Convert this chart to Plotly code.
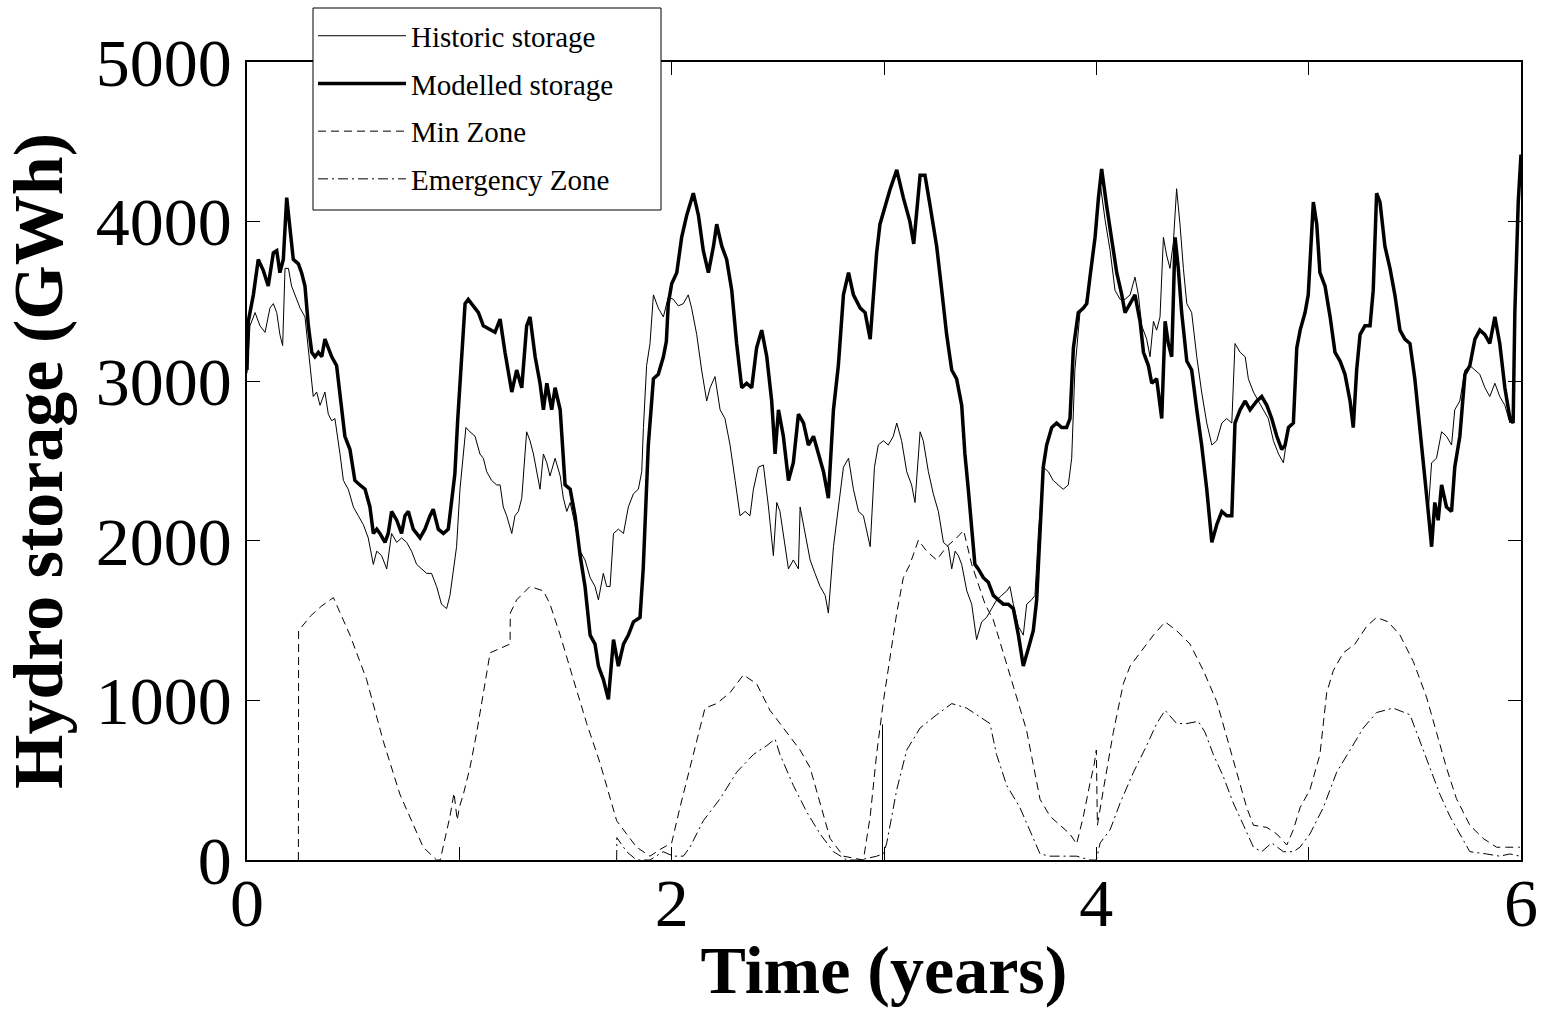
import plotly.graph_objects as go

# ---------------- data (years, GWh) ----------------
model_t = [0.0, 0.006, 0.03, 0.053, 0.077, 0.1, 0.124, 0.14, 0.155, 0.171, 0.187, 0.202, 0.218, 0.242, 0.257,
           0.273, 0.289, 0.305, 0.32, 0.336, 0.352, 0.367, 0.383, 0.399, 0.422, 0.438, 0.461, 0.485, 0.508, 0.532,
           0.556, 0.579, 0.595, 0.611, 0.626, 0.65, 0.665, 0.681, 0.705, 0.728, 0.744, 0.76, 0.783, 0.815, 0.838,
           0.862, 0.877, 0.901, 0.925, 0.948, 0.965, 0.979, 0.992, 1.005, 1.027, 1.042, 1.066, 1.09, 1.113, 1.145,
           1.168, 1.192, 1.215, 1.247, 1.27, 1.294, 1.317, 1.333, 1.357, 1.38, 1.396, 1.412, 1.435, 1.451, 1.475,
           1.498, 1.522, 1.545, 1.569, 1.592, 1.616, 1.639, 1.655, 1.678, 1.702, 1.726, 1.749, 1.773, 1.796, 1.82,
           1.851, 1.866, 1.89, 1.914, 1.937, 1.961, 1.975, 1.984, 2.0, 2.024, 2.047, 2.071, 2.102, 2.126, 2.149,
           2.173, 2.197, 2.212, 2.236, 2.259, 2.283, 2.306, 2.33, 2.353, 2.377, 2.4, 2.424, 2.448, 2.471, 2.487,
           2.503, 2.526, 2.55, 2.573, 2.597, 2.621, 2.644, 2.668, 2.691, 2.715, 2.738, 2.762, 2.785, 2.809, 2.833,
           2.856, 2.888, 2.911, 2.935, 2.951, 2.965, 2.981, 3.005, 3.028, 3.06, 3.091, 3.122, 3.14, 3.17, 3.193,
           3.217, 3.248, 3.272, 3.295, 3.319, 3.342, 3.366, 3.381, 3.397, 3.413, 3.428, 3.444, 3.468, 3.491, 3.515,
           3.538, 3.562, 3.585, 3.609, 3.633, 3.656, 3.68, 3.703, 3.719, 3.735, 3.75, 3.766, 3.79, 3.813, 3.837,
           3.86, 3.876, 3.892, 3.915, 3.939, 3.955, 3.97, 3.994, 4.01, 4.025, 4.049, 4.073, 4.096, 4.12, 4.135,
           4.159, 4.182, 4.206, 4.222, 4.245, 4.261, 4.284, 4.308, 4.324, 4.339, 4.355, 4.371, 4.386, 4.402, 4.426,
           4.449, 4.473, 4.496, 4.52, 4.544, 4.567, 4.591, 4.614, 4.638, 4.653, 4.677, 4.701, 4.724, 4.756, 4.779,
           4.803, 4.826, 4.85, 4.873, 4.889, 4.905, 4.928, 4.944, 4.96, 4.983, 4.998, 5.022, 5.038, 5.053, 5.077,
           5.101, 5.124, 5.148, 5.171, 5.195, 5.21, 5.226, 5.242, 5.265, 5.289, 5.304, 5.32, 5.336, 5.359, 5.383,
           5.406, 5.43, 5.453, 5.477, 5.5, 5.524, 5.547, 5.563, 5.579, 5.594, 5.61, 5.626, 5.649, 5.673, 5.688,
           5.712, 5.736, 5.759, 5.783, 5.806, 5.83, 5.853, 5.877, 5.9, 5.924, 5.948, 5.963, 5.971, 5.987, 6.0]
model_v = [3070, 3375, 3541, 3763, 3693, 3596, 3804, 3818, 3680, 3763, 4150, 3984, 3763, 3735, 3680,
           3596, 3347, 3181, 3153, 3181, 3153, 3264, 3209, 3153, 3098, 2904, 2655, 2572, 2378, 2350,
           2323, 2212, 2046, 2073, 2046, 1990, 2046, 2184, 2129, 2046, 2157, 2184, 2073, 2018, 2073,
           2157, 2198, 2073, 2046, 2073, 2250, 2420, 2750, 3000, 3486, 3513, 3472, 3430, 3347, 3320,
           3306, 3389, 3181, 2932, 3070, 2959, 3347, 3403, 3153, 2987, 2821, 2987, 2821, 2959, 2821,
           2350, 2323, 2157, 1907, 1714, 1409, 1353, 1215, 1132, 1007, 1381, 1215, 1353, 1409, 1492,
           1520, 1824, 2600, 3015, 3043, 3153, 3250, 3486, 3610, 3680, 3901, 4040, 4178, 4040, 3818,
           3680, 3846, 3984, 3846, 3763, 3569, 3236, 2959, 2987, 2959, 3209, 3320, 3153, 2876, 2544,
           2821, 2655, 2378, 2489, 2793, 2738, 2600, 2655, 2544, 2433, 2267, 2821, 3098, 3541, 3680,
           3541, 3458, 3430, 3264, 3541, 3800, 3984, 4095, 4200, 4324, 4150, 4000, 3860, 4290, 4290,
           4100, 3846, 3569, 3292, 3070, 3015, 2849, 2544, 2323, 2046, 1852, 1824, 1769, 1741, 1658,
           1630, 1603, 1603, 1575, 1409, 1215, 1326, 1437, 1630, 2046, 2461, 2600, 2710, 2738, 2710,
           2710, 2766, 3209, 3430, 3458, 3486, 3652, 3901, 4150, 4330, 4095, 3873, 3680, 3541, 3430,
           3486, 3541, 3375, 3181, 3098, 2987, 3015, 2766, 3375, 3236, 3153, 3901, 3707, 3430, 3126,
           3070, 2821, 2600, 2323, 1990, 2101, 2184, 2157, 2157, 2738, 2821, 2876, 2821, 2876, 2904,
           2849, 2766, 2655, 2572, 2600, 2710, 2738, 3209, 3320, 3430, 3541, 4122, 3984, 3680, 3596,
           3403, 3181, 3126, 3043, 2876, 2710, 3070, 3292, 3347, 3347, 3569, 4178, 4122, 3846, 3707,
           3541, 3320, 3264, 3236, 3015, 2710, 2433, 2184, 1963, 2240, 2129, 2350, 2212, 2184, 2461,
           2655, 3043, 3098, 3264, 3320, 3292, 3236, 3403, 3236, 2959, 2766, 2738, 3430, 4122, 4420]

hist_t = [0.0, 0.014, 0.038, 0.061, 0.085, 0.108, 0.124, 0.14, 0.155, 0.168, 0.179, 0.195, 0.21, 0.226, 0.25,
          0.273, 0.289, 0.305, 0.312, 0.328, 0.344, 0.367, 0.383, 0.399, 0.414, 0.438, 0.454, 0.477, 0.501, 0.524,
          0.548, 0.571, 0.595, 0.611, 0.634, 0.658, 0.681, 0.705, 0.728, 0.752, 0.775, 0.799, 0.822, 0.846, 0.869,
          0.893, 0.916, 0.94, 0.956, 0.972, 0.987, 1.003, 1.019, 1.031, 1.05, 1.074, 1.097, 1.113, 1.129, 1.152,
          1.176, 1.192, 1.207, 1.223, 1.247, 1.262, 1.278, 1.294, 1.317, 1.333, 1.349, 1.364, 1.38, 1.396, 1.412,
          1.427, 1.451, 1.475, 1.49, 1.506, 1.522, 1.545, 1.569, 1.592, 1.616, 1.639, 1.655, 1.678, 1.694, 1.71,
          1.726, 1.749, 1.773, 1.796, 1.82, 1.843, 1.859, 1.867, 1.882, 1.898, 1.914, 1.937, 1.961, 1.984, 2.008,
          2.031, 2.055, 2.078, 2.094, 2.118, 2.141, 2.165, 2.181, 2.204, 2.228, 2.251, 2.275, 2.299, 2.322, 2.346,
          2.369, 2.385, 2.408, 2.432, 2.456, 2.479, 2.495, 2.51, 2.534, 2.55, 2.573, 2.597, 2.605, 2.628, 2.652,
          2.675, 2.699, 2.723, 2.738, 2.762, 2.785, 2.809, 2.833, 2.856, 2.88, 2.903, 2.935, 2.955, 2.973, 2.997,
          3.02, 3.044, 3.06, 3.083, 3.107, 3.13, 3.146, 3.17, 3.185, 3.209, 3.232, 3.256, 3.28, 3.303, 3.319,
          3.335, 3.35, 3.366, 3.39, 3.413, 3.436, 3.46, 3.483, 3.507, 3.531, 3.554, 3.578, 3.593, 3.609, 3.633,
          3.656, 3.672, 3.695, 3.711, 3.727, 3.75, 3.774, 3.797, 3.821, 3.844, 3.868, 3.884, 3.899, 3.923, 3.946,
          3.97, 3.994, 4.018, 4.041, 4.065, 4.088, 4.112, 4.135, 4.159, 4.182, 4.198, 4.214, 4.237, 4.253, 4.269,
          4.284, 4.3, 4.316, 4.331, 4.347, 4.363, 4.378, 4.394, 4.41, 4.426, 4.449, 4.473, 4.496, 4.52, 4.544,
          4.567, 4.591, 4.614, 4.638, 4.653, 4.677, 4.701, 4.716, 4.74, 4.763, 4.787, 4.81, 4.834, 4.858, 4.881,
          4.905, 4.928, 4.944, 4.96, 4.983, 4.998, 5.022, 5.038, 5.053, 5.077, 5.101, 5.124, 5.148, 5.171, 5.195,
          5.21, 5.226, 5.242, 5.265, 5.289, 5.304, 5.32, 5.336, 5.359, 5.383, 5.406, 5.43, 5.453, 5.477, 5.5,
          5.524, 5.547, 5.563, 5.579, 5.602, 5.626, 5.649, 5.673, 5.688, 5.712, 5.736, 5.759, 5.783, 5.806, 5.83,
          5.853, 5.877, 5.9, 5.924, 5.948, 5.963, 5.975, 5.99]
hist_v = [3050, 3347, 3430, 3347, 3306, 3458, 3486, 3430, 3292, 3223, 3707, 3707, 3596, 3541, 3458,
          3403, 3209, 3015, 2904, 2932, 2849, 2932, 2793, 2752, 2766, 2544, 2378, 2323, 2212, 2157,
          2101, 2018, 1852, 1935, 1907, 1824, 2046, 1990, 2018, 1990, 1935, 1852, 1824, 1796, 1796,
          1714, 1603, 1575, 1658, 1824, 1963, 2323, 2544, 2710, 2683, 2655, 2544, 2517, 2433, 2378,
          2350, 2350, 2212, 2157, 2046, 2157, 2184, 2267, 2683, 2627, 2544, 2433, 2323, 2544, 2489,
          2406, 2517, 2406, 2267, 2184, 2240, 2101, 1935, 1880, 1769, 1714, 1630, 1796, 1714, 1714,
          2046, 2073, 2046, 2212, 2295, 2323, 2433, 2710, 3098, 3236, 3541, 3458, 3403, 3527, 3513,
          3472, 3486, 3541, 3458, 3292, 3070, 2876, 2959, 3029, 2821, 2766, 2600, 2378, 2157, 2184,
          2157, 2323, 2461, 2475, 2212, 1907, 2240, 2184, 1963, 1824, 1880, 1824, 2212, 2046, 1880,
          1796, 1714, 1658, 1547, 1963, 2212, 2461, 2517, 2323, 2184, 2157, 1963, 2461, 2600, 2627,
          2600, 2655, 2738, 2627, 2433, 2350, 2240, 2683, 2627, 2433, 2295, 2184, 1990, 1963, 1824,
          1935, 1907, 1852, 1686, 1603, 1381, 1492, 1520, 1575, 1630, 1658, 1686, 1714, 1603, 1464,
          1409, 1603, 1630, 1658, 2046, 2461, 2433, 2378, 2350, 2323, 2350, 2517, 3070, 3430, 3458,
          3652, 3901, 4240, 4012, 3818, 3569, 3513, 3513, 3541, 3652, 3541, 3347, 3264, 3153, 3375,
          3320, 3403, 3901, 3790, 3707, 3873, 4206, 3984, 3707, 3486, 3430, 3153, 2932, 2738, 2600,
          2627, 2738, 2766, 2738, 3236, 3181, 3153, 3015, 2932, 2876, 2821, 2766, 2627, 2544, 2489,
          2710, 2738, 3209, 3320, 3430, 3541, 4122, 3984, 3680, 3596, 3403, 3181, 3126, 3043, 2876,
          2710, 3070, 3292, 3347, 3347, 3569, 4178, 4122, 3846, 3707, 3541, 3320, 3264, 3236, 3015,
          2710, 2433, 2184, 2489, 2517, 2683, 2655, 2600, 2821, 2876, 3070, 3098, 3070, 3043, 2959,
          2904, 2987, 2904, 2849, 2738, 2793, 3707, 4261]

minzone_t = [0.242, 0.243, 0.3, 0.35, 0.407, 0.445, 0.485, 0.563, 0.642, 0.72, 0.783, 0.83, 0.893, 0.91, 0.956,
             0.975, 0.99, 1.0, 1.019, 1.05, 1.082, 1.113, 1.145, 1.192, 1.239, 1.24, 1.27, 1.333, 1.396, 1.427,
             1.475, 1.537, 1.6, 1.663, 1.71, 1.741, 1.788, 1.835, 1.898, 1.945, 2.0, 2.039, 2.102, 2.157, 2.212,
             2.275, 2.338, 2.4, 2.463, 2.526, 2.605, 2.652, 2.699, 2.746, 2.809, 2.903, 2.935, 2.965, 2.997, 3.028,
             3.06, 3.091, 3.122, 3.162, 3.201, 3.248, 3.295, 3.342, 3.375, 3.413, 3.476, 3.515, 3.593, 3.671, 3.735,
             3.782, 3.829, 3.876, 3.907, 3.939, 3.97, 3.99, 4.0, 4.005, 4.033, 4.08, 4.127, 4.159, 4.206, 4.269,
             4.324, 4.378, 4.441, 4.504, 4.567, 4.614, 4.661, 4.708, 4.74, 4.803, 4.85, 4.897, 4.928, 4.96, 5.006,
             5.053, 5.085, 5.116, 5.163, 5.218, 5.273, 5.32, 5.375, 5.43, 5.493, 5.555, 5.602, 5.649, 5.696, 5.759,
             5.822, 5.885, 5.932, 5.995]
minzone_v = [0, 1437, 1530, 1590, 1644, 1530, 1409, 1132, 744, 412, 218, 80, 0, 0, 274,
             420, 250, 330, 412, 578, 800, 1049, 1298, 1326, 1353, 1547, 1630, 1714, 1686, 1603,
             1409, 1132, 855, 606, 384, 246, 163, 80, 24, 66, 107, 329, 661, 952, 980,
             1049, 1160, 1104, 938, 827, 689, 578, 357, 135, 24, 0, 274, 661, 993, 1270,
             1547, 1769, 1852, 2004, 1935, 1880, 1963, 2018, 2065, 1852, 1603, 1504, 1159, 815, 380,
             274, 218, 163, 100, 274, 480, 600, 689, 218, 440, 800, 1104, 1215, 1298, 1409,
             1492, 1437, 1353, 1187, 993, 772, 550, 329, 218, 204, 163, 94, 190, 330, 440,
             661, 1049, 1187, 1298, 1353, 1464, 1520, 1492, 1409, 1243, 1021, 800, 578, 384, 218,
             135, 80, 80, 80]

emerg_t = [1.741, 1.742, 1.788, 1.835, 1.898, 1.96, 2.008, 2.055, 2.086, 2.149, 2.228, 2.306, 2.385, 2.448, 2.487,
           2.51, 2.573, 2.636, 2.699, 2.762, 2.825, 2.888, 2.966, 2.998, 3.013, 3.06, 3.107, 3.17, 3.248, 3.319,
           3.389, 3.452, 3.499, 3.53, 3.578, 3.64, 3.687, 3.735, 3.782, 3.844, 3.907, 3.97, 4.0, 4.018, 4.065,
           4.112, 4.175, 4.237, 4.284, 4.324, 4.378, 4.426, 4.48, 4.512, 4.551, 4.598, 4.645, 4.693, 4.74, 4.779,
           4.826, 4.881, 4.928, 4.959, 5.006, 5.069, 5.132, 5.195, 5.257, 5.32, 5.398, 5.477, 5.524, 5.571, 5.618,
           5.665, 5.712, 5.759, 5.837, 5.9, 5.948, 5.995]
emerg_v = [0, 140, 52, 0, 0, 52, 24, 24, 80, 246, 384, 550, 661, 717, 758,
           661, 467, 301, 163, 52, 0, 0, 24, 40, 107, 440, 689, 827, 910, 980,
           952, 897, 855, 661, 467, 329, 190, 38, 24, 24, 24, 0, 0, 107, 190,
           357, 550, 717, 855, 938, 855, 855, 869, 800, 661, 523, 357, 218, 80, 52,
           107, 52, 52, 80, 163, 329, 550, 689, 827, 924, 952, 910, 744, 578, 412,
           274, 163, 52, 38, 24, 38, 24]

# solid vertical jump drawn at the start of year 3
jump_t = [2.993, 2.993]
jump_v = [0, 850]

x_tickvals = [0, 1, 2, 3, 4, 5, 6]
x_ticktext = ["0", "", "2", "", "4", "", "6"]
y_tickvals = [0, 1000, 2000, 3000, 4000, 5000]
y_ticktext = ["0", "1000", "2000", "3000", "4000", "5000"]

SERIF = "Liberation Serif, Times New Roman, serif"

fig = go.Figure()
fig.add_trace(go.Scatter(x=hist_t, y=hist_v, mode="lines", name="Historic storage",
                         line=dict(color="black", width=1), legendgroup="a"))
fig.add_trace(go.Scatter(x=model_t, y=model_v, mode="lines", name="Modelled storage",
                         line=dict(color="black", width=3.5), legendgroup="b"))
fig.add_trace(go.Scatter(x=minzone_t, y=minzone_v, mode="lines", name="Min Zone",
                         line=dict(color="black", width=1, dash="8px,5px"), legendgroup="c"))
fig.add_trace(go.Scatter(x=emerg_t, y=emerg_v, mode="lines", name="Emergency Zone",
                         line=dict(color="black", width=1, dash="10px,4px,2px,4px"), legendgroup="d"))
fig.add_trace(go.Scatter(x=jump_t, y=jump_v, mode="lines", showlegend=False,
                         line=dict(color="black", width=1)))

# legend frame (paper coordinates)
LEG_X0, LEG_X1 = (313 - 247) / 1274, (661 - 247) / 1274
LEG_Y0, LEG_Y1 = (860 - 210) / 798, (860 - 8) / 798

fig.update_layout(
    width=1546, height=1010,
    margin=dict(l=247, r=25, t=62, b=150, autoexpand=False),
    paper_bgcolor="white", plot_bgcolor="white",
    font=dict(family=SERIF, color="black"),
    showlegend=True,
    shapes=[dict(type="rect", xref="paper", yref="paper", x0=LEG_X0, x1=LEG_X1, y0=LEG_Y0, y1=LEG_Y1,
                 line=dict(color="black", width=1), fillcolor="white", layer="above")],
    legend=dict(x=LEG_X0, y=LEG_Y1 - 0.003, xanchor="left", yanchor="top",
                bgcolor="rgba(0,0,0,0)", borderwidth=0,
                font=dict(family=SERIF, size=29, color="black"),
                itemwidth=88, tracegroupgap=7, traceorder="grouped"),
    xaxis=dict(range=[0, 6], tickvals=x_tickvals, ticktext=x_ticktext,
               ticks="inside", ticklen=13, tickwidth=1, tickcolor="black",
               showline=True, linecolor="black", linewidth=1.5, mirror="ticks",
               showgrid=False, zeroline=False, automargin=False,
               ticklabelstandoff=-17,
               tickfont=dict(family=SERIF, size=68, color="black"),
               title=dict(text="<b>Time (years)</b>", font=dict(family=SERIF, size=68, color="black"),
                          standoff=5)),
    yaxis=dict(range=[0, 5000], tickvals=y_tickvals, ticktext=y_ticktext,
               ticks="inside", ticklen=13, tickwidth=1, tickcolor="black",
               showline=True, linecolor="black", linewidth=1.5, mirror="ticks",
               showgrid=False, zeroline=False, automargin=False,
               tickfont=dict(family=SERIF, size=68, color="black"),
               title=dict(text="<b>Hydro storage (GWh)</b>", font=dict(family=SERIF, size=70, color="black"),
                          standoff=10)),
)

fig.write_html("out.html")
